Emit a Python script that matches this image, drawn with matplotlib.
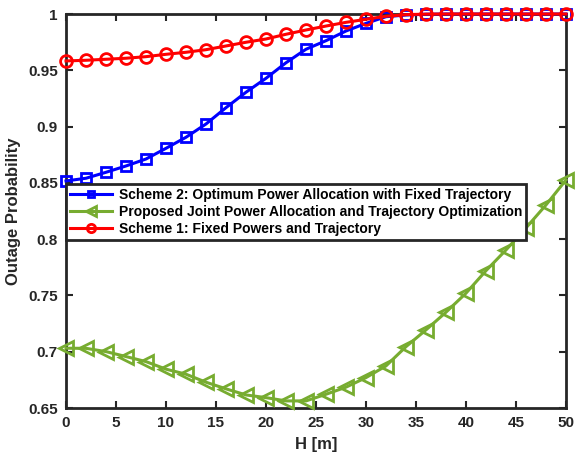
import matplotlib
matplotlib.use("Agg")
import matplotlib.pyplot as plt

plt.rcParams['font.family'] = ['Liberation Sans', 'DejaVu Sans']
plt.rcParams['font.weight'] = 'bold'

H = list(range(0, 51, 2))

scheme2 = [0.8517, 0.8541, 0.8594, 0.8650, 0.8712, 0.8807, 0.8905, 0.9023, 0.9168,
           0.9305, 0.9429, 0.9567, 0.9687, 0.9763, 0.9849, 0.9917, 0.9976, 0.9991,
           0.9998, 1.0, 1.0, 1.0, 1.0, 1.0, 1.0, 1.0]
proposed = [0.7031, 0.7030, 0.7001, 0.6957, 0.6912, 0.6845, 0.6800, 0.6729, 0.6670,
            0.6616, 0.6592, 0.6563, 0.6563, 0.6622, 0.6685, 0.6770, 0.6874, 0.7045,
            0.7194, 0.7351, 0.7520, 0.7720, 0.7904, 0.8100, 0.8304, 0.8526]
scheme1 = [0.9583, 0.9589, 0.9598, 0.9607, 0.9621, 0.9642, 0.9660, 0.9683, 0.9716,
           0.9749, 0.9778, 0.9820, 0.9858, 0.9893, 0.9926, 0.9953, 0.9980, 0.9994,
           0.9999, 1.0, 1.0, 1.0, 1.0, 1.0, 1.0, 1.0]

labels = ["Scheme 2: Optimum Power Allocation with Fixed Trajectory",
          "Proposed Joint Power Allocation and Trajectory Optimization",
          "Scheme 1: Fixed Powers and Trajectory"]

green = '#77AC30'
fig = plt.figure(figsize=(5.76, 4.55), dpi=100)
ax = fig.add_axes([66/576, 1-408/455, 500/576, 394/455])

l2, = ax.plot(H, scheme2, color='blue', lw=2.2, marker='s', ms=6.5, mfc='none', mew=2,
              label=labels[0], clip_on=False, zorder=3)
lp, = ax.plot(H, proposed, color=green, lw=2.2, marker='<', ms=9.5, mfc='none', mew=2,
              label=labels[1], clip_on=False, zorder=3)
l1, = ax.plot(H, scheme1, color='red', lw=2.2, marker='o', ms=8.5, mfc='none', mew=2,
              label=labels[2], clip_on=False, zorder=4)

ax.set_xlim(0, 50)
ax.set_ylim(0.65, 1.0)
ax.set_xticks([0, 5, 10, 15, 20, 25, 30, 35, 40, 45, 50])
ax.set_yticks([0.65, 0.7, 0.75, 0.8, 0.85, 0.9, 0.95, 1.0])
ax.set_yticklabels(['0.65', '0.7', '0.75', '0.8', '0.85', '0.9', '0.95', '1'])
ax.tick_params(direction='in', top=True, right=True, length=5, width=1.5,
               labelsize=11, colors='#262626', pad=6)
for lab in ax.get_xticklabels() + ax.get_yticklabels():
    lab.set_fontweight('bold')
for s in ax.spines.values():
    s.set_linewidth(2)
    s.set_color('#262626')

ax.set_xlabel('H [m]', fontsize=12, fontweight='bold', color='#262626', labelpad=5)
ax.set_ylabel('Outage Probability', fontsize=12, fontweight='bold', color='#262626', labelpad=5)

leg = ax.legend(handles=[l2, lp, l1], loc='upper left', bbox_to_anchor=(0.0, (408-184)/394),
                fontsize=10, frameon=True, fancybox=False, framealpha=1, edgecolor='#262626',
                handlelength=3.0, handletextpad=0.5, borderpad=0.3, labelspacing=0.2,
                markerscale=0.7, borderaxespad=0)
leg.get_frame().set_linewidth(2)
for t in leg.get_texts():
    t.set_fontweight('bold')
leg.set_zorder(10)

fig.savefig('out.png', dpi=100)
